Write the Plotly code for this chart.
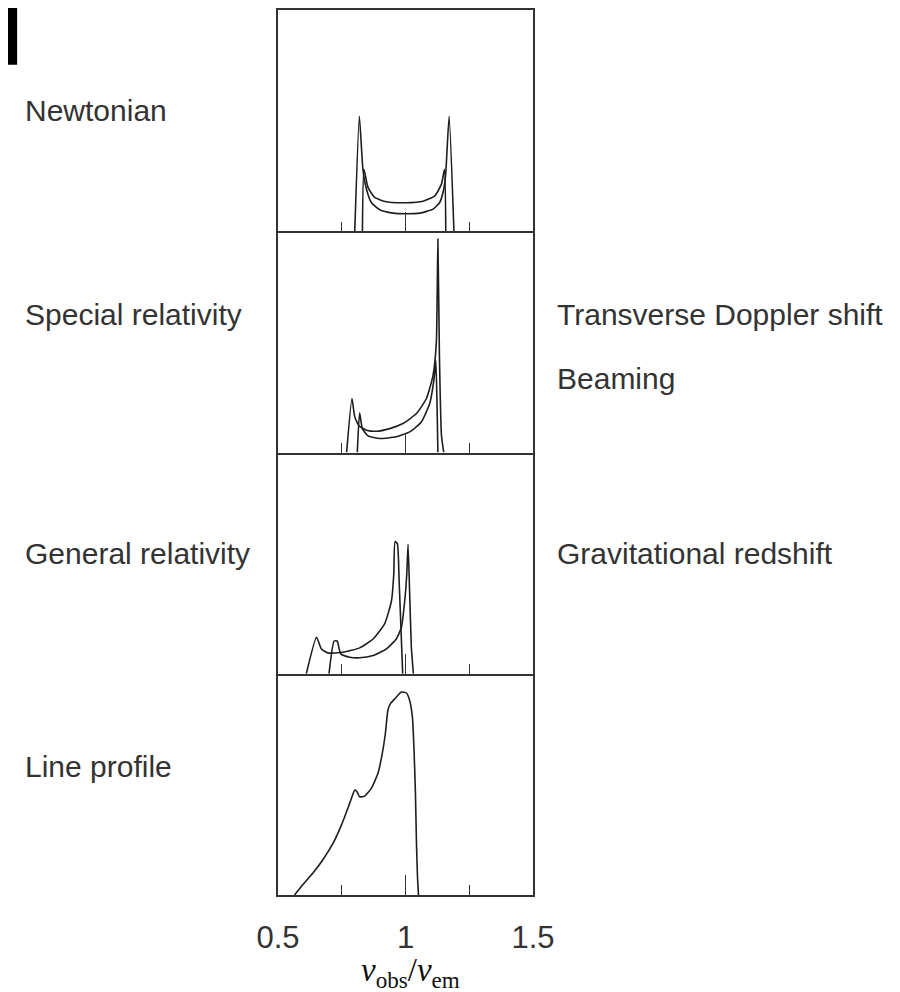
import plotly.graph_objects as go
from plotly.subplots import make_subplots

# Newtonian: two ring profiles
newt_a_x = [0.801, 0.819, 0.833, 0.847, 0.866, 0.899, 0.951, 1.001, 1.056, 1.108, 1.134, 1.150, 1.158, 1.171, 1.190]
newt_a_y = [0.0, 0.520, 0.280, 0.190, 0.130, 0.097, 0.082, 0.079, 0.082, 0.100, 0.130, 0.190, 0.265, 0.520, 0.0]
newt_b_x = [0.831, 0.837, 0.853, 0.879, 0.925, 1.001, 1.069, 1.115, 1.141, 1.153, 1.158]
newt_b_y = [0.0, 0.280, 0.198, 0.153, 0.133, 0.129, 0.136, 0.160, 0.213, 0.280, 0.0]

# Special relativity
sr_a_x = [0.769, 0.790, 0.801, 0.818, 0.847, 0.886, 0.938, 0.990, 1.043, 1.082, 1.108, 1.121, 1.127, 1.133, 1.141, 1.150]
sr_a_y = [0.0, 0.244, 0.161, 0.120, 0.101, 0.096, 0.108, 0.131, 0.176, 0.244, 0.349, 0.499, 0.965, 0.439, 0.078, 0.0]
sr_b_x = [0.811, 0.820, 0.831, 0.853, 0.899, 0.964, 1.016, 1.062, 1.095, 1.112, 1.119, 1.124, 1.127]
sr_b_y = [0.0, 0.179, 0.108, 0.075, 0.063, 0.071, 0.093, 0.138, 0.221, 0.334, 0.417, 0.198, 0.0]

# General relativity
gr_a_x = [0.611, 0.651, 0.670, 0.696, 0.755, 0.820, 0.873, 0.918, 0.945, 0.954, 0.959, 0.968, 0.975, 0.989]
gr_a_y = [0.0, 0.165, 0.112, 0.094, 0.097, 0.117, 0.157, 0.225, 0.330, 0.450, 0.597, 0.588, 0.420, 0.0]
gr_b_x = [0.700, 0.720, 0.732, 0.746, 0.781, 0.820, 0.873, 0.925, 0.964, 0.984, 0.997, 1.005, 1.010, 1.016, 1.023, 1.031]
gr_b_y = [0.0, 0.148, 0.148, 0.090, 0.075, 0.072, 0.082, 0.112, 0.157, 0.210, 0.330, 0.450, 0.585, 0.375, 0.120, 0.0]

# Line profile
lp_x = [0.565, 0.598, 0.637, 0.676, 0.716, 0.749, 0.781, 0.801, 0.810, 0.820, 0.840, 0.866, 0.892, 0.909, 0.921,
        0.931, 0.941, 0.958, 0.984, 1.004, 1.016, 1.027, 1.033, 1.039, 1.043, 1.047, 1.051]
lp_y = [0.0, 0.047, 0.099, 0.159, 0.234, 0.317, 0.414, 0.474, 0.467, 0.444, 0.447, 0.482, 0.550, 0.640, 0.730,
        0.835, 0.865, 0.887, 0.917, 0.913, 0.880, 0.805, 0.670, 0.459, 0.234, 0.084, 0.0]

left_labels = ["Newtonian", "Special relativity", "General relativity", "Line profile"]
left_label_y = [0.886, 0.656, 0.386, 0.145]
right_labels = ["Transverse Doppler shift", "Beaming", "Gravitational redshift"]
right_label_y = [0.656, 0.584, 0.386]

panels = [
    [(newt_a_x, newt_a_y), (newt_b_x, newt_b_y)],
    [(sr_a_x, sr_a_y), (sr_b_x, sr_b_y)],
    [(gr_a_x, gr_a_y), (gr_b_x, gr_b_y)],
    [(lp_x, lp_y)],
]

fig = make_subplots(rows=4, cols=1, shared_xaxes=True, vertical_spacing=0)

line_col = "#1e1e1e"
for r, curves in enumerate(panels, start=1):
    for cx, cy in curves:
        fig.add_trace(go.Scatter(x=cx, y=cy, mode="lines", showlegend=False,
                                 line=dict(color=line_col, width=1.6, shape="spline", smoothing=0.5)),
                      row=r, col=1)

axis_col = "#333"
for r in range(1, 5):
    bottom = r == 4
    fig.update_xaxes(range=[0.5, 1.5], showgrid=False, zeroline=False,
                     showline=True, mirror=(r == 1), linecolor=axis_col, linewidth=1.5,
                     ticks="inside", ticklen=20, tickwidth=1.3, tickcolor=axis_col,
                     tickmode="array", tickvals=[0.5, 1, 1.5] if bottom else [1],
                     ticktext=["0.5", "1", "1.5"] if bottom else [""],
                     showticklabels=bottom,
                     minor=dict(tickmode="array", tickvals=[0.75, 1.25], ticks="inside",
                                ticklen=10, tickwidth=1.3, tickcolor=axis_col),
                     row=r, col=1)
    fig.update_yaxes(range=[0, 1], showgrid=False, zeroline=False, showline=True,
                     mirror=True, linecolor=axis_col, linewidth=1.5, ticks="",
                     showticklabels=False, row=r, col=1)

fig.update_xaxes(tickfont=dict(family="Liberation Sans, Arial", size=31, color="#333"),
                 ticklabelstandoff=14, row=4, col=1)

ann_font = dict(family="Liberation Sans, Arial", size=30, color="#333")
for txt, yy in zip(left_labels, left_label_y):
    fig.add_annotation(text=txt, x=-1.0, y=yy, xref="paper", yref="paper",
                       xanchor="left", yanchor="middle", showarrow=False, font=ann_font)
for txt, yy in zip(right_labels, right_label_y):
    fig.add_annotation(text=txt, x=1.087, y=yy, xref="paper", yref="paper",
                       xanchor="left", yanchor="middle", showarrow=False, font=ann_font)

fig.add_annotation(text="<i>ν</i><sub>obs</sub>/<i>ν</i><sub>em</sub>",
                   x=0.52, y=-0.088, xref="paper", yref="paper", xanchor="center",
                   yanchor="middle", showarrow=False,
                   font=dict(family="Liberation Serif, DejaVu Serif", size=33, color="#111"))

# black block in the top-left corner
fig.add_shape(type="rect", xref="paper", yref="paper", x0=-1.1, x1=-1.023,
              y0=1.01, y1=0.938, fillcolor="black", line=dict(width=0), layer="above")

# page body adds ~8px offset; margins compensate
fig.update_layout(width=900, height=992, margin=dict(l=270, r=375, t=0, b=105),
                  plot_bgcolor="white", paper_bgcolor="white")

fig.write_html("out.html")
